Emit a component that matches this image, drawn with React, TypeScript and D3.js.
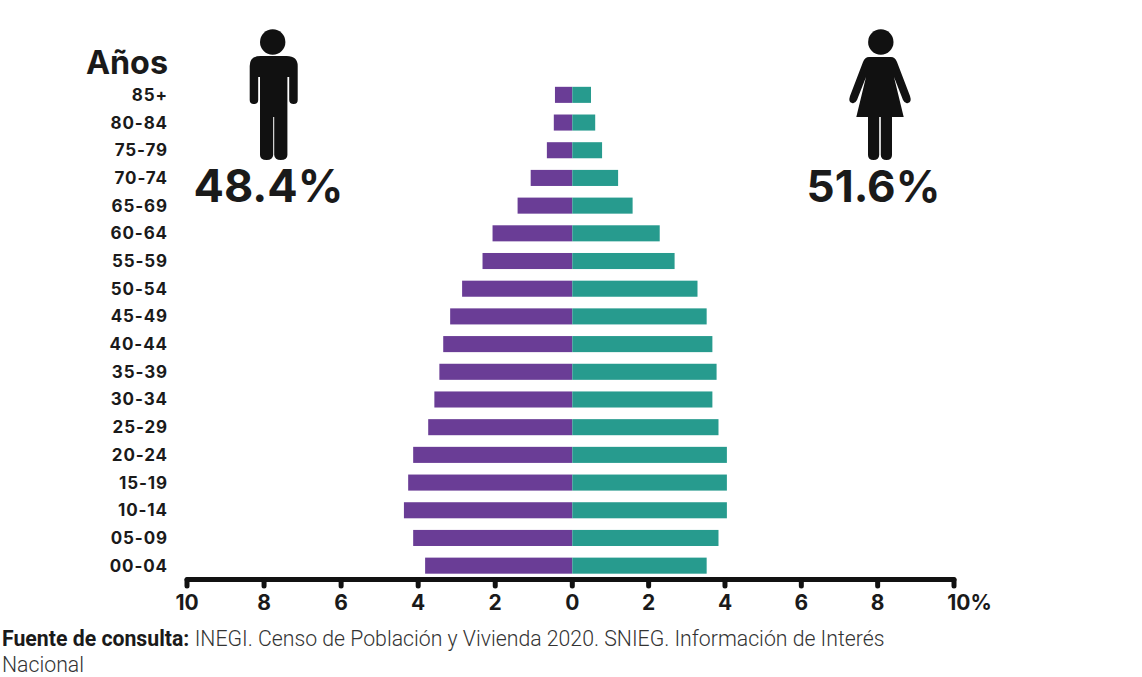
import React, { useEffect, useRef } from 'react';
import * as d3 from 'd3';

const ageGroups = ['85+', '80-84', '75-79', '70-74', '65-69', '60-64', '55-59', '50-54', '45-49', '40-44', '35-39', '30-34', '25-29', '20-24', '15-19', '10-14', '05-09', '00-04'];
const men = [0.45, 0.48, 0.66, 1.08, 1.42, 2.07, 2.33, 2.86, 3.17, 3.35, 3.45, 3.58, 3.74, 4.13, 4.26, 4.37, 4.13, 3.82];
const women = [0.49, 0.6, 0.78, 1.2, 1.58, 2.29, 2.68, 3.28, 3.52, 3.67, 3.78, 3.67, 3.83, 4.05, 4.05, 4.05, 3.83, 3.52];
const ticks = [-10, -8, -6, -4, -2, 0, 2, 4, 6, 8, 10];

const FONT = 'Inter, "Noto Sans", sans-serif';
const NOTE_FONT = 'Roboto, sans-serif';
const INK = '#1a1a1a';

const manPath = 'M-13,14 H13 Q24,14 24,24 V58 Q24,62 20,62 Q15.5,62 15.5,58 V35 H13.7 V113 Q13.7,118 7,118 Q1,118 0.5,113 V75 H-0.5 V113 Q-1,118 -7,118 Q-13.7,118 -13.7,113 V35 H-15.5 V58 Q-15.5,62 -20,62 Q-24,62 -24,58 V24 Q-24,14 -13,14 Z';
const womanPath = 'M-11,15 H11 Q15,15 17,20 L30,54 Q32,60 28,61 Q25,62 23,58 L14,35 L23.7,75 H12 V113 Q12,118 6.5,118 Q1,118 0.8,113 V75 H-0.8 V113 Q-1,118 -6.5,118 Q-12,118 -12,113 V75 H-23.7 L-14,35 L-23,58 Q-25,62 -28,61 Q-32,60 -30,54 L-17,20 Q-15,15 -11,15 Z';

const App: React.FC = () => {
  const svgRef = useRef<SVGSVGElement>(null);

  useEffect(() => {
    if (!svgRef.current) return;
    const svg = d3.select(svgRef.current);
    svg.selectAll('*').remove();

    // the source axis is slightly wider on the left of zero
    const x = d3.scaleLinear().domain([-10, 0, 10]).range([187, 572.3, 954]);
    const y = d3.scaleBand<string>().domain(ageGroups).range([81, 579.5]).paddingInner(0.42).paddingOuter(0.21);

    // Bars
    svg.append('g').selectAll('rect')
      .data(men)
      .enter().append('rect')
      .attr('x', d => x(-d))
      .attr('y', (d, i) => y(ageGroups[i]) as number)
      .attr('width', d => x(0) - x(-d))
      .attr('height', y.bandwidth())
      .attr('fill', '#6a3d96');

    svg.append('g').selectAll('rect')
      .data(women)
      .enter().append('rect')
      .attr('x', x(0))
      .attr('y', (d, i) => y(ageGroups[i]) as number)
      .attr('width', d => x(d) - x(0))
      .attr('height', y.bandwidth())
      .attr('fill', '#279b8e');

    // Age labels
    svg.append('g').selectAll('text')
      .data(ageGroups)
      .enter().append('text')
      .attr('x', 168)
      .attr('y', d => (y(d) as number) + y.bandwidth() / 2 + 6)
      .attr('text-anchor', 'end')
      .attr('font-family', FONT)
      .attr('font-size', 17)
      .attr('font-weight', 700)
      .attr('letter-spacing', 0.9)
      .attr('fill', INK)
      .text(d => d);

    svg.append('text')
      .attr('x', 168).attr('y', 74)
      .attr('text-anchor', 'end')
      .attr('font-family', FONT)
      .attr('font-size', 32.3)
      .attr('font-weight', 700)
      .attr('fill', INK)
      .text('Años');

    // X axis
    const axis = svg.append('g');
    axis.append('line')
      .attr('x1', x(-10)).attr('x2', x(10))
      .attr('y1', 579.5).attr('y2', 579.5)
      .attr('stroke', '#111').attr('stroke-width', 5).attr('stroke-linecap', 'round');
    axis.selectAll('line.tick')
      .data(ticks)
      .enter().append('line')
      .attr('class', 'tick')
      .attr('x1', d => x(d)).attr('x2', d => x(d))
      .attr('y1', 580).attr('y2', 586)
      .attr('stroke', '#111').attr('stroke-width', 5).attr('stroke-linecap', 'round');
    axis.selectAll('text')
      .data(ticks)
      .enter().append('text')
      .attr('x', d => x(d) + (d === 10 ? 15.5 : 0))
      .attr('y', 610)
      .attr('text-anchor', 'middle')
      .attr('font-family', FONT)
      .attr('font-size', 21)
      .attr('font-weight', 700)
      .attr('fill', INK)
      .text(d => (d === 10 ? '10%' : String(Math.abs(d))));

    // Figures and totals
    const man = svg.append('g').attr('transform', 'translate(273.7,42)').attr('fill', '#111');
    man.append('circle').attr('cx', -1).attr('r', 12.7);
    man.append('path').attr('d', manPath);

    const woman = svg.append('g').attr('transform', 'translate(880,42)').attr('fill', '#111');
    woman.append('circle').attr('cx', 0.8).attr('r', 12.7);
    woman.append('path').attr('d', womanPath);

    svg.append('text')
      .attr('x', 268.5).attr('y', 202)
      .attr('text-anchor', 'middle')
      .attr('font-family', FONT).attr('font-size', 45).attr('font-weight', 700)
      .attr('fill', INK)
      .text('48.4%');
    svg.append('text')
      .attr('x', 873.5).attr('y', 202)
      .attr('text-anchor', 'middle')
      .attr('font-family', FONT).attr('font-size', 44).attr('font-weight', 700)
      .attr('fill', INK)
      .text('51.6%');

    // Source note
    const note = svg.append('text')
      .attr('x', 2).attr('y', 646)
      .attr('font-family', NOTE_FONT)
      .attr('font-size', 21.25)
      .attr('fill', '#333');
    note.append('tspan').attr('font-weight', 700).attr('fill', INK).text('Fuente de consulta: ');
    note.append('tspan').attr('font-weight', 300).text('INEGI. Censo de Población y Vivienda 2020. SNIEG. Información de Interés');
    svg.append('text')
      .attr('x', 2).attr('y', 671.7)
      .attr('font-family', NOTE_FONT)
      .attr('font-size', 21.25)
      .attr('font-weight', 300)
      .attr('fill', '#333')
      .text('Nacional');
  }, []);

  return <svg ref={svgRef} width={1142} height={677} style={{ position: 'absolute', left: 0, top: 0 }}></svg>;
};

export default App;
